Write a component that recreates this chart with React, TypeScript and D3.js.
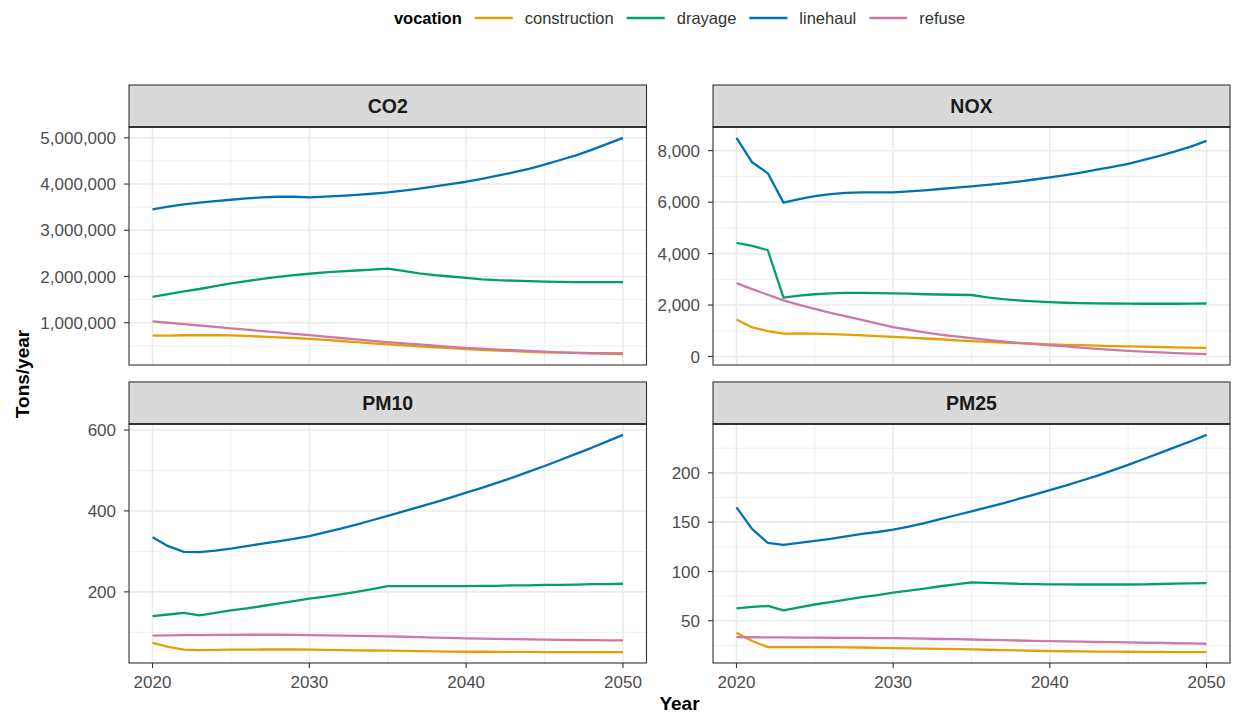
import React, { useEffect, useRef } from "react";
import * as d3 from "d3";

// Annual emissions by truck vocation, 2020–2050 (tons/year)
const years = [
  2020, 2021, 2022, 2023, 2024, 2025, 2026, 2027, 2028, 2029, 2030,
  2031, 2032, 2033, 2034, 2035, 2036, 2037, 2038, 2039, 2040,
  2041, 2042, 2043, 2044, 2045, 2046, 2047, 2048, 2049, 2050,
];
const vocations = ["construction", "drayage", "linehaul", "refuse"];
const pollutants = ["CO2", "NOX", "PM10", "PM25"];

const co2Construction = [
  720000, 720000, 730000, 730000, 730000, 725000, 715000, 700000, 685000, 670000, 650000,
  630000, 605000, 580000, 555000, 530000, 510000, 490000, 470000, 450000, 430000,
  415000, 400000, 385000, 370000, 360000, 355000, 350000, 345000, 340000, 340000,
];
const co2Drayage = [
  1560000, 1620000, 1680000, 1730000, 1790000, 1850000, 1900000, 1950000, 1990000, 2030000, 2060000,
  2090000, 2110000, 2130000, 2150000, 2170000, 2120000, 2070000, 2030000, 2000000, 1970000,
  1940000, 1920000, 1910000, 1900000, 1890000, 1885000, 1880000, 1880000, 1880000, 1880000,
];
const co2Linehaul = [
  3450000, 3510000, 3560000, 3600000, 3630000, 3660000, 3690000, 3710000, 3725000, 3725000, 3710000,
  3730000, 3745000, 3765000, 3790000, 3820000, 3860000, 3900000, 3950000, 4000000, 4050000,
  4110000, 4180000, 4250000, 4330000, 4420000, 4520000, 4620000, 4740000, 4870000, 5000000,
];
const co2Refuse = [
  1030000, 1000000, 970000, 940000, 910000, 880000, 850000, 820000, 790000, 760000, 730000,
  700000, 670000, 640000, 610000, 580000, 555000, 530000, 505000, 480000, 455000,
  440000, 420000, 405000, 390000, 375000, 360000, 350000, 340000, 330000, 320000,
];

const noxConstruction = [
  1440, 1130, 990, 890, 900, 890, 870, 850, 820, 790, 760,
  730, 700, 670, 630, 600, 570, 545, 520, 495, 470,
  455, 440, 420, 405, 390, 380, 370, 355, 345, 335,
];
const noxDrayage = [
  4420, 4300, 4130, 2290, 2370, 2420, 2450, 2470, 2470, 2460, 2450,
  2440, 2420, 2410, 2400, 2390, 2300, 2230, 2180, 2140, 2110,
  2090, 2075, 2065, 2060, 2055, 2050, 2050, 2050, 2055, 2060,
];
const noxLinehaul = [
  8500, 7550, 7120, 5980, 6120, 6230, 6310, 6360, 6380, 6380, 6380,
  6420, 6460, 6510, 6560, 6610, 6670, 6730, 6800, 6880, 6960,
  7050, 7150, 7260, 7370, 7490, 7640, 7800, 7970, 8160, 8380,
];
const noxRefuse = [
  2850, 2620, 2400, 2180, 2010, 1850, 1700, 1560, 1420, 1280, 1140,
  1040, 940, 850, 780, 710, 650, 590, 530, 480, 430,
  390, 345, 300, 260, 220, 190, 160, 130, 110, 90,
];

const pm10Construction = [
  74, 64, 57, 56, 56.5, 57, 57, 57.5, 57.5, 57.5, 57,
  56.5, 56, 55.5, 55, 54.5, 54, 53.5, 53, 52.5, 52,
  52, 51.5, 51.5, 51.5, 51, 51, 51, 51, 51, 51,
];
const pm10Drayage = [
  140, 144, 148, 142, 148, 154, 159, 165, 171, 177, 183,
  188, 194, 200, 207, 214, 214, 214, 214, 214, 214,
  215, 215, 216, 216, 217, 217, 218, 219, 219, 220,
];
const pm10Linehaul = [
  335, 313, 299, 298, 302, 307, 313, 319, 325, 331, 338,
  347, 356, 366, 377, 388, 399, 410, 421, 433, 445,
  457, 470, 483, 497, 511, 526, 541, 556, 572, 588,
];
const pm10Refuse = [
  92, 92.5, 93, 93, 93.5, 93.5, 94, 94, 94, 93.5, 93,
  92.5, 92, 91, 90.5, 90, 89, 88, 87, 86, 85,
  84.5, 84, 83, 82.5, 82, 81.5, 81, 80.5, 80, 80,
];

const pm25Construction = [
  37.8, 29.5, 23.3, 23.2, 23.3, 23.3, 23.2, 23.1, 22.9, 22.6, 22.3,
  22.0, 21.8, 21.5, 21.2, 21.0, 20.6, 20.3, 19.9, 19.6, 19.3,
  19.1, 19.0, 18.8, 18.7, 18.6, 18.5, 18.4, 18.3, 18.2, 18.2,
];
const pm25Drayage = [
  62.5, 64, 65, 60.5, 63.5, 66.5, 69, 71.5, 74, 76, 78.5,
  80.5, 82.5, 85, 87, 89, 88.5, 88, 87.5, 87.2, 87,
  87, 86.8, 86.8, 86.8, 86.8, 87, 87.3, 87.6, 87.9, 88.2,
];
const pm25Linehaul = [
  165, 143, 129, 127, 129, 131, 133, 135.5, 138, 140, 142.5,
  145.5, 149, 153, 157, 161, 165, 169, 173.5, 178, 182.5,
  187, 192, 197, 202.5, 208, 214, 220, 226, 232, 238.5,
];
const pm25Refuse = [
  33.4, 33.3, 33.2, 33.1, 33.0, 32.9, 32.8, 32.7, 32.6, 32.5, 32.4,
  32.1, 31.8, 31.5, 31.3, 31.0, 30.7, 30.4, 30.0, 29.7, 29.4,
  29.1, 28.8, 28.5, 28.3, 28.0, 27.7, 27.5, 27.2, 27.0, 26.7,
];

const co2Ticks = [1000000, 2000000, 3000000, 4000000, 5000000];
const noxTicks = [0, 2000, 4000, 6000, 8000];
const pm10Ticks = [200, 400, 600];
const pm25Ticks = [50, 100, 150, 200];
const yearTicks = [2020, 2030, 2040, 2050];

const seriesByPollutant: Record<string, number[][]> = {
  CO2: [co2Construction, co2Drayage, co2Linehaul, co2Refuse],
  NOX: [noxConstruction, noxDrayage, noxLinehaul, noxRefuse],
  PM10: [pm10Construction, pm10Drayage, pm10Linehaul, pm10Refuse],
  PM25: [pm25Construction, pm25Drayage, pm25Linehaul, pm25Refuse],
};
const ticksByPollutant: Record<string, number[]> = {
  CO2: co2Ticks,
  NOX: noxTicks,
  PM10: pm10Ticks,
  PM25: pm25Ticks,
};

const palette: Record<string, string> = {
  construction: "#E69F00",
  drayage: "#009E73",
  linehaul: "#0072B2",
  refuse: "#CC79A7",
};

const WIDTH = 1235;
const HEIGHT = 716;
const FONT = "'Liberation Sans', Arial, Helvetica, sans-serif";
const TICK_SIZE = 17;
const STRIP_SIZE = 19.5;
const TITLE_SIZE = 19;
const LEGEND_SIZE = 16.5;
const GRID = "#EBEBEB";
const FRAME = "#333333";

// facet grid geometry
const cols = [
  { l: 129, r: 646.5 },
  { l: 713, r: 1230 },
];
const rows = [
  { st: 85, pt: 127, pb: 365 },
  { st: 382, pt: 424, pb: 663 },
];

const expand = (lo: number, hi: number, mult = 0.05): [number, number] => {
  const pad = (hi - lo) * mult;
  return [lo - pad, hi + pad];
};

const minorBreaks = (majors: number[], domain: [number, number]) => {
  const step = majors[1] - majors[0];
  const ext = [majors[0] - step, ...majors, majors[majors.length - 1] + step];
  const out: number[] = [];
  for (let i = 0; i < ext.length - 1; i++) {
    const m = (ext[i] + ext[i + 1]) / 2;
    if (m >= domain[0] && m <= domain[1]) out.push(m);
  }
  return out;
};

export default function App() {
  const ref = useRef<SVGSVGElement | null>(null);

  useEffect(() => {
    const svg = d3.select(ref.current);
    svg.selectAll("*").remove();

    svg.append("rect").attr("width", WIDTH).attr("height", HEIGHT).attr("fill", "#FFFFFF");

    const fmt = d3.format(",");

    pollutants.forEach((p, i) => {
      const c = cols[i % 2];
      const r = rows[Math.floor(i / 2)];
      const series = seriesByPollutant[p];
      const ticks = ticksByPollutant[p];

      const xDomain = expand(d3.min(years)!, d3.max(years)!);
      const x = d3.scaleLinear().domain(xDomain).range([c.l, c.r]);
      const all = series.flat();
      const yDomain = expand(d3.min(all)!, d3.max(all)!);
      const y = d3.scaleLinear().domain(yDomain).range([r.pb, r.pt]);

      const g = svg.append("g");

      // panel background
      g.append("rect")
        .attr("x", c.l).attr("y", r.pt)
        .attr("width", c.r - c.l).attr("height", r.pb - r.pt)
        .attr("fill", "#FFFFFF");

      // minor grid
      const xMinor = minorBreaks(yearTicks, xDomain);
      const yMinor = minorBreaks(ticks, yDomain);
      g.selectAll(".xminor").data(xMinor).join("line")
        .attr("x1", (d) => x(d)).attr("x2", (d) => x(d))
        .attr("y1", r.pt).attr("y2", r.pb)
        .attr("stroke", GRID).attr("stroke-width", 0.8);
      g.selectAll(".yminor").data(yMinor).join("line")
        .attr("x1", c.l).attr("x2", c.r)
        .attr("y1", (d) => y(d)).attr("y2", (d) => y(d))
        .attr("stroke", GRID).attr("stroke-width", 0.8);

      // major grid
      g.selectAll(".xmajor").data(yearTicks).join("line")
        .attr("x1", (d) => x(d)).attr("x2", (d) => x(d))
        .attr("y1", r.pt).attr("y2", r.pb)
        .attr("stroke", GRID).attr("stroke-width", 1.6);
      g.selectAll(".ymajor").data(ticks).join("line")
        .attr("x1", c.l).attr("x2", c.r)
        .attr("y1", (d) => y(d)).attr("y2", (d) => y(d))
        .attr("stroke", GRID).attr("stroke-width", 1.6);

      // series lines
      const line = d3.line<number>()
        .x((_, k) => x(years[k]))
        .y((d) => y(d));
      series.forEach((vals, k) => {
        g.append("path")
          .attr("d", line(vals) as string)
          .attr("fill", "none")
          .attr("stroke", palette[vocations[k]])
          .attr("stroke-width", 2.3)
          .attr("stroke-linejoin", "round")
          .attr("stroke-linecap", "butt");
      });

      // panel border
      g.append("rect")
        .attr("x", c.l).attr("y", r.pt)
        .attr("width", c.r - c.l).attr("height", r.pb - r.pt)
        .attr("fill", "none").attr("stroke", FRAME).attr("stroke-width", 1.1);

      // strip
      g.append("rect")
        .attr("x", c.l).attr("y", r.st)
        .attr("width", c.r - c.l).attr("height", r.pt - r.st)
        .attr("fill", "#D9D9D9").attr("stroke", FRAME).attr("stroke-width", 1.1);
      g.append("line")
        .attr("x1", c.l).attr("x2", c.r)
        .attr("y1", r.pt).attr("y2", r.pt)
        .attr("stroke", FRAME).attr("stroke-width", 2);
      g.append("text")
        .attr("x", (c.l + c.r) / 2).attr("y", (r.st + r.pt) / 2)
        .attr("dy", "0.36em")
        .attr("text-anchor", "middle")
        .attr("font-family", FONT).attr("font-size", STRIP_SIZE).attr("font-weight", "bold")
        .attr("fill", "#1A1A1A")
        .text(p);

      // y axis
      const ya = g.append("g");
      ya.selectAll("line").data(ticks).join("line")
        .attr("x1", c.l - 5).attr("x2", c.l)
        .attr("y1", (d) => y(d)).attr("y2", (d) => y(d))
        .attr("stroke", FRAME).attr("stroke-width", 1.1);
      ya.selectAll("text").data(ticks).join("text")
        .attr("x", c.l - 13).attr("y", (d) => y(d)).attr("dy", "0.36em")
        .attr("text-anchor", "end")
        .attr("font-family", FONT).attr("font-size", TICK_SIZE).attr("fill", "#4D4D4D")
        .text((d) => fmt(d));

      // x axis on the bottom row only
      if (r === rows[1]) {
        const xa = g.append("g");
        xa.selectAll("line").data(yearTicks).join("line")
          .attr("x1", (d) => x(d)).attr("x2", (d) => x(d))
          .attr("y1", r.pb).attr("y2", r.pb + 5)
          .attr("stroke", FRAME).attr("stroke-width", 1.1);
        xa.selectAll("text").data(yearTicks).join("text")
          .attr("x", (d) => x(d)).attr("y", r.pb + 25)
          .attr("text-anchor", "middle")
          .attr("font-family", FONT).attr("font-size", TICK_SIZE).attr("fill", "#4D4D4D")
          .text((d) => String(d));
      }
    });

    // axis titles
    svg.append("text")
      .attr("transform", `translate(29,${(rows[0].st + rows[1].pb) / 2}) rotate(-90)`)
      .attr("text-anchor", "middle")
      .attr("font-family", FONT).attr("font-size", TITLE_SIZE).attr("font-weight", "bold")
      .attr("fill", "#000000")
      .text("Tons/year");
    svg.append("text")
      .attr("x", (cols[0].l + cols[1].r) / 2).attr("y", 710)
      .attr("text-anchor", "middle")
      .attr("font-family", FONT).attr("font-size", TITLE_SIZE).attr("font-weight", "bold")
      .attr("fill", "#000000")
      .text("Year");

    // legend across the top
    const lg = svg.append("g");
    const ly = 18;
    const title = lg.append("text")
      .attr("y", ly).attr("dy", "0.36em")
      .attr("font-family", FONT).attr("font-size", LEGEND_SIZE).attr("font-weight", "bold")
      .attr("fill", "#000000")
      .text("vocation");
    let cursor = (title.node() as SVGTextElement).getComputedTextLength() + 13;
    vocations.forEach((v) => {
      const keyX = cursor;
      const lbl = lg.append("text")
        .attr("y", ly).attr("dy", "0.36em")
        .attr("font-family", FONT).attr("font-size", LEGEND_SIZE)
        .attr("fill", "#333333")
        .text(v);
      const w = (lbl.node() as SVGTextElement).getComputedTextLength();
      lg.append("line")
        .attr("x1", keyX).attr("x2", keyX + 38)
        .attr("y1", ly).attr("y2", ly)
        .attr("stroke", palette[v]).attr("stroke-width", 2.6);
      lbl.attr("x", keyX + 50);
      cursor = keyX + 50 + w + 13;
    });
    const total = cursor - 13;
    const center = (cols[0].l + cols[1].r) / 2;
    lg.attr("transform", `translate(${center - total / 2},0)`);
  }, []);

  return (
    <svg
      ref={ref}
      width={WIDTH}
      height={HEIGHT}
      style={{ position: "absolute", left: 0, top: 0, display: "block" }}
    />
  );
}
